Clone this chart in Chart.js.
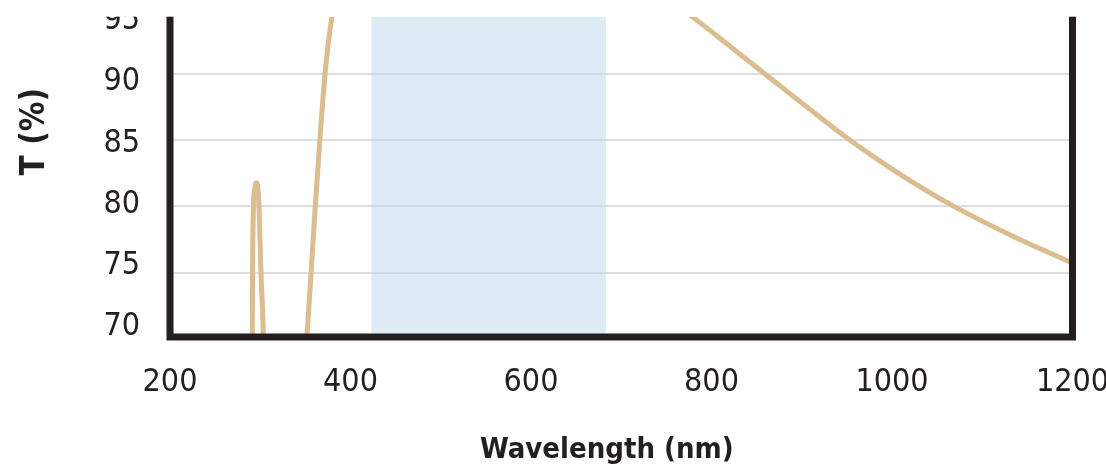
<!DOCTYPE html>
<html>
<head>
<meta charset="utf-8">
<script src="https://cdn.jsdelivr.net/npm/chart.js@4.4.1/dist/chart.umd.min.js"></script>
<style>
  html, body { margin: 0; padding: 0; background: #fff; }
  .chart-box { width: 1106px; height: 471px; }
</style>
</head>
<body>
<div class="chart-box"><canvas class="transmission-chart"></canvas></div>
<script>
// transmission curve (nm, T %)
const wavelengths = [280, 289, 291.2, 291.5, 292.5, 293.6, 295.8, 297.6, 298.6, 300.8, 303.6, 306, 312,
  330, 340, 345, 351.6, 356.3, 361, 366, 369.3, 371.8, 375.3, 379.4, 386, 420, 660, 700, 740,
  776.2, 813.1, 859.3, 905.5, 951.6, 1005.2, 1066.1, 1134, 1200];
const transmission = [40, 55, 70, 75, 80, 81.2, 81.8, 81.2, 80, 75, 70, 60, 45,
  40, 58.5, 63.8, 70, 75, 80, 85, 88, 90, 92.3, 94.3, 96.5, 97.5, 98.3, 97.8, 96.3,
  94.45, 92.5, 90, 87.52, 85.1, 82.6, 80.1, 77.75, 75.72];

// shaded design band (nm)
const designBand = [423, 683];

const xTicks = [200, 400, 600, 800, 1000, 1200];
const yTicks = [70, 75, 80, 85, 90, 95];

const ink = '#231f20';
const family = "'Liberation Sans Narrow', 'DejaVu Sans Condensed', 'DejaVu Sans', sans-serif";

const curvePoints = wavelengths.map((w, i) => ({ x: w, y: transmission[i] }));
const bandPoints = designBand.map((w) => ({ x: w, y: 100 }));

const setTicks = (values) => (scale) => {
  scale.ticks = values.map((v) => ({ value: v }));
};

// frame, the cropped top edge and the axis titles
const framePlugin = {
  id: 'frame',
  afterDraw(chart) {
    const { ctx, chartArea: a, width } = chart;
    ctx.save();
    ctx.strokeStyle = ink;
    ctx.lineWidth = 7;
    ctx.lineCap = 'square';
    ctx.beginPath();
    ctx.moveTo(a.left, a.top);
    ctx.lineTo(a.left, a.bottom - 2);
    ctx.lineTo(a.right, a.bottom - 2);
    ctx.lineTo(a.right, a.top);
    ctx.stroke();

    ctx.fillStyle = '#fff';
    ctx.fillRect(0, 0, width, a.top);

    ctx.fillStyle = ink;
    ctx.font = `bold 29px ${family}`;
    ctx.textAlign = 'center';
    ctx.textBaseline = 'alphabetic';
    ctx.fillText('Wavelength (nm)', a.left + (a.right - a.left) * 0.484, a.bottom + 119);

    ctx.translate(44, a.top + (a.bottom - a.top) * 0.357);
    ctx.rotate(-Math.PI / 2);
    ctx.font = `bold 33px ${family}`;
    ctx.fillText('T (%)', 0, 0);
    ctx.restore();
  },
};

const canvas = document.querySelector('.transmission-chart');

const chart = new Chart(canvas, {
  type: 'line',
  data: {
    datasets: [
      {
        label: 'T (%)',
        data: curvePoints,
        borderColor: '#dcbd8f',
        borderWidth: 5,
        pointRadius: 0,
        cubicInterpolationMode: 'monotone',
        order: 0,
        yAxisID: 'y',
      },
      {
        label: 'band',
        data: bandPoints,
        fill: 'start',
        backgroundColor: 'rgba(191, 215, 235, 0.5)',
        borderWidth: 0,
        pointRadius: 0,
        order: 1,
        yAxisID: 'y',
      },
    ],
  },
  options: {
    animation: false,
    responsive: true,
    maintainAspectRatio: false,
    layout: { padding: { top: 16.7, right: 33.5, left: 0, bottom: 0 } },
    plugins: {
      legend: { display: false },
      tooltip: { enabled: false },
    },
    scales: {
      x: {
        type: 'linear',
        min: 200,
        max: 1200,
        afterBuildTicks: setTicks(xTicks),
        afterFit: (s) => {
          s.height = 132.1;
          s.paddingLeft = 0;
          s.paddingRight = 0;
        },
        grid: { display: false, drawTicks: true, tickLength: 25 },
        border: { display: false },
        ticks: {
          color: ink,
          padding: 0,
          maxRotation: 0,
          callback: (v) => String(v),
          font: { family, size: 32, lineHeight: 1.2 },
        },
      },
      y: {
        type: 'linear',
        position: 'left',
        min: 70,
        max: 94.33,
        afterBuildTicks: setTicks(yTicks.filter((v) => v < 94.33)),
        grid: { color: '#dddddd', lineWidth: 2, drawTicks: false },
        border: { display: false },
        ticks: { display: false },
      },
      yLabels: {
        type: 'linear',
        position: 'left',
        min: 69.02,
        max: 95.34,
        afterBuildTicks: setTicks(yTicks),
        afterFit: (s) => {
          s.width = 170;
          s.paddingTop = 0;
          s.paddingBottom = 0;
        },
        grid: { display: false, drawTicks: true, tickLength: 30 },
        border: { display: false },
        ticks: {
          color: ink,
          padding: 0,
          callback: (v) => String(v),
          font: { family, size: 32, lineHeight: 0.9 },
        },
      },
    },
  },
  plugins: [framePlugin],
});
</script>
</body>
</html>
